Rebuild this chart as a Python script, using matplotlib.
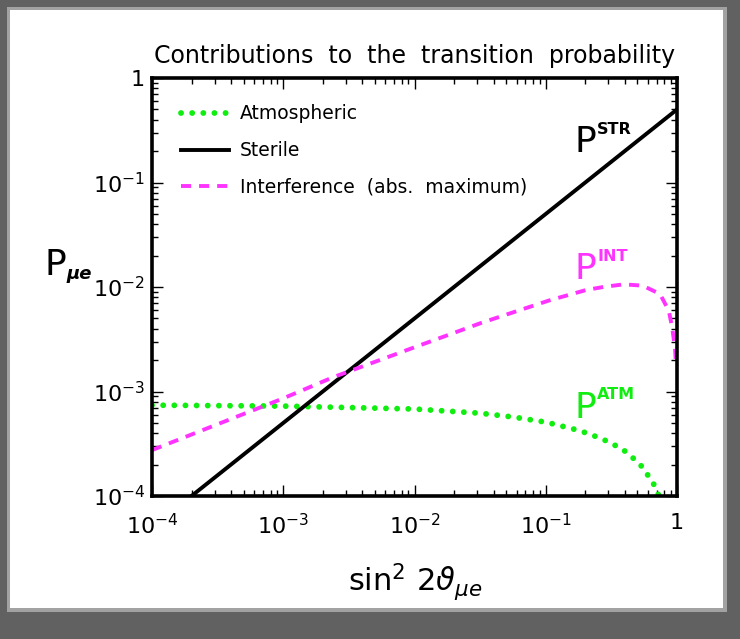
import matplotlib
matplotlib.use("Agg")
import matplotlib.pyplot as plt
from matplotlib.patches import Rectangle
from matplotlib.ticker import LogLocator, FixedLocator, NullFormatter

# sin^2(2 theta_mue) values and the three probability contributions
s_sterile = [1e-4, 1.0]
p_sterile = [5e-5, 0.5]

s_atm = [1e-4, 1e-3, 1e-2, 0.0316, 0.0564, 0.102, 0.183, 0.268, 0.383,
         0.519, 0.653, 0.713, 0.76]
p_atm = [7.4e-4, 7.25e-4, 6.8e-4, 6.2e-4, 5.7e-4, 5.07e-4, 4.21e-4,
         3.53e-4, 2.82e-4, 2.04e-4, 1.36e-4, 1.07e-4, 8.5e-5]

s_int = [1e-4, 1e-3, 2.4e-3, 1e-2, 0.0325, 0.0566, 0.106, 0.203, 0.283,
         0.394, 0.548, 0.742, 0.866, 0.921, 0.966, 0.98]
p_int = [2.75e-4, 8.6e-4, 1.37e-3, 2.65e-3, 4.55e-3, 5.73e-3, 7.43e-3,
         9.36e-3, 1.007e-2, 1.06e-2, 1.03e-2, 8.57e-3, 5.93e-3, 4.03e-3,
         2.57e-3, 1.9e-3]

decades = [1e-4, 1e-3, 1e-2, 1e-1, 1.0]
decade_labels = [r"$10^{-4}$", r"$10^{-3}$", r"$10^{-2}$", r"$10^{-1}$", "1"]

series_labels = ["Atmospheric", "Sterile", "Interference  (abs.  maximum)"]

GREEN = "#10ee10"
MAGENTA = "#ff33ff"

W, H = 740, 639
fig = plt.figure(figsize=(W / 100, H / 100), dpi=100)
fig.patch.set_facecolor("#616161")


def px_rect(x0, y0, x1, y1, color):
    fig.add_artist(Rectangle((x0 / W, 1 - y1 / H), (x1 - x0) / W, (y1 - y0) / H,
                             transform=fig.transFigure, facecolor=color,
                             edgecolor="none", zorder=-10))


# window frame around the white canvas
px_rect(7, 7, 727, 612, "#a2a2a2")
px_rect(10, 10, 723, 608, "white")

ax = fig.add_axes([152 / W, 1 - 496 / H, 525 / W, 418 / H])
ax.set_facecolor("white")
ax.set_xscale("log")
ax.set_yscale("log")
ax.set_xlim(1e-4, 1)
ax.set_ylim(1e-4, 1)

ax.plot(s_atm, p_atm, color=GREEN, lw=4.2, linestyle=(0, (0.01, 1.9)),
        dash_capstyle="round", label=series_labels[0])
ax.plot(s_sterile, p_sterile, color="black", lw=2.8, label=series_labels[1])
ax.plot(s_int, p_int, color=MAGENTA, lw=2.8, linestyle=(0, (2.6, 2.05)),
        label=series_labels[2])

for sp in ax.spines.values():
    sp.set_linewidth(2.6)

ax.xaxis.set_major_locator(FixedLocator(decades))
ax.yaxis.set_major_locator(FixedLocator(decades))
ax.xaxis.set_minor_locator(LogLocator(base=10, subs=range(2, 10), numticks=20))
ax.yaxis.set_minor_locator(LogLocator(base=10, subs=range(2, 10), numticks=20))
ax.xaxis.set_minor_formatter(NullFormatter())
ax.yaxis.set_minor_formatter(NullFormatter())
ax.set_xticklabels(decade_labels)
ax.set_yticklabels(decade_labels)
ax.tick_params(which="both", direction="in", top=True, right=True,
               width=1.0, labelsize=16)
ax.tick_params(which="major", length=8)
ax.tick_params(which="minor", length=4.5)
ax.tick_params(axis="x", which="major", pad=12)
ax.tick_params(axis="y", which="major", pad=5)

ax.set_title("Contributions  to  the  transition  probability",
             fontsize=17, pad=11)

leg = ax.legend(loc="upper left", bbox_to_anchor=(0.04, 0.955), frameon=False,
                fontsize=13.5, handlelength=2.6, handletextpad=0.55,
                labelspacing=0.95, borderaxespad=0)


# curve labels
def curve_label(x, y, sup, color):
    ax.text(x, y, "P", transform=ax.transAxes, fontsize=26, color=color,
            ha="left", va="baseline")
    ax.text(x + 0.043, y + 0.045, sup, transform=ax.transAxes, fontsize=11.5,
            fontweight="bold", color=color, ha="left", va="baseline")


curve_label(0.805, 0.822, "STR", "black")
curve_label(0.805, 0.518, "INT", MAGENTA)
curve_label(0.805, 0.187, "ATM", GREEN)

# axis titles
fig.text(45 / W, 1 - 275 / H, "P", fontsize=26, ha="left", va="baseline")
fig.text(66 / W, 1 - 279 / H, "μe", fontsize=13, fontweight="bold",
         fontstyle="italic", ha="left", va="baseline")

fig.text(415 / W, 1 - 590 / H, r"$\mathregular{sin^2\ 2}\vartheta_{\mu e}$",
         fontsize=22, ha="center", va="baseline")

fig.savefig("out.png", dpi=100, facecolor=fig.get_facecolor())
